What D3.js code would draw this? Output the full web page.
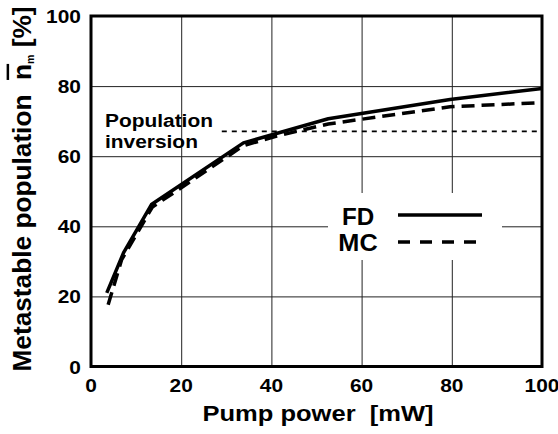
<!DOCTYPE html>
<html>
<head>
<meta charset="utf-8">
<script src="https://cdn.jsdelivr.net/npm/d3@7"></script>
<style>
  body { margin: 0; background: #fff; }
  svg { display: block; font-family: "Liberation Sans", Arial, sans-serif; font-weight: bold; }
  svg text { white-space: pre; }
</style>
</head>
<body>
<svg id="chart" width="558" height="434"></svg>
<script>
// data
const fdPower = [3.5, 7.2, 13.4, 33.8, 52.6, 79.6, 100];
const fdPop   = [21, 32.4, 46.2, 63.8, 70.7, 76.2, 79.3];
const mcPower = [3.8, 6.8, 13.6, 20, 33.8, 41, 52.6, 79.6, 100];
const mcPop   = [17.6, 30.5, 45.5, 51, 63, 65.7, 69.2, 74.1, 75.3];
const inversionLevel = 67.1;
const inversionStart = 29;
const xTicks = [0, 20, 40, 60, 80, 100];
const yTicks = [0, 20, 40, 60, 80, 100];

const svg = d3.select("#chart");
const x = d3.scaleLinear().domain([0, 100]).range([91, 542]);
const y = d3.scaleLinear().domain([0, 100]).range([366.5, 16]);

// text helper, the scan is a bit stretched sideways
function label(str, px, py, size, sx, anchor) {
    return svg.append("text")
        .attr("transform", `translate(${px},${py}) scale(${sx},1)`)
        .attr("text-anchor", anchor || "start")
        .style("font-size", size + "px")
        .text(str);
}

// grid
svg.append("g")
    .attr("transform", `translate(0,${y(0)})`)
    .call(d3.axisBottom(x).tickValues(xTicks).tickSize(-(y(0) - y(100))).tickFormat("").tickSizeOuter(0))
    .call(g => g.select(".domain").remove())
    .selectAll("line").attr("stroke", "#222").attr("stroke-width", 1);
svg.append("g")
    .attr("transform", `translate(${x(0)},0)`)
    .call(d3.axisLeft(y).tickValues(yTicks).tickSize(-(x(100) - x(0))).tickFormat("").tickSizeOuter(0))
    .call(g => g.select(".domain").remove())
    .selectAll("line").attr("stroke", "#222").attr("stroke-width", 1);

// population inversion level
svg.append("line")
    .attr("x1", x(inversionStart)).attr("x2", x(100))
    .attr("y1", y(inversionLevel)).attr("y2", y(inversionLevel))
    .attr("stroke", "#000").attr("stroke-width", 1.8)
    .attr("stroke-dasharray", "5,5");

label("Population", 105, 127, 19, 1.1);
label("inversion", 105, 148, 19, 1.1);

// curves
const line = d3.line().x(d => x(d[0])).y(d => y(d[1]));
svg.append("path")
    .datum(mcPower.map((p, i) => [p, mcPop[i]]))
    .attr("d", line)
    .attr("fill", "none").attr("stroke", "#000").attr("stroke-width", 3.5)
    .attr("stroke-dasharray", "13,7");
svg.append("path")
    .datum(fdPower.map((p, i) => [p, fdPop[i]]))
    .attr("d", line)
    .attr("fill", "none").attr("stroke", "#000").attr("stroke-width", 3.5)
    .attr("stroke-linejoin", "round");

// legend
svg.append("rect")
    .attr("x", 328).attr("y", 193).attr("width", 174).attr("height", 67)
    .attr("fill", "#fff");
label("FD", 358, 225, 23, 1.05, "middle");
label("MC", 358, 251, 23, 1.1, "middle");
svg.append("line")
    .attr("x1", 398).attr("x2", 482).attr("y1", 215).attr("y2", 215)
    .attr("stroke", "#000").attr("stroke-width", 3.5);
svg.append("line")
    .attr("x1", 398).attr("x2", 478).attr("y1", 242).attr("y2", 242)
    .attr("stroke", "#000").attr("stroke-width", 3.5)
    .attr("stroke-dasharray", "12,10");

// frame
svg.append("rect")
    .attr("x", x(0)).attr("y", y(100))
    .attr("width", x(100) - x(0)).attr("height", y(0) - y(100))
    .attr("fill", "none").attr("stroke", "#000").attr("stroke-width", 3);

// tick labels
xTicks.forEach(t => label(String(t), x(t), 392, 19, 1.1, "middle"));
yTicks.forEach(t => label(String(t), 81, y(t) + 7, 19, 1.1, "end"));

// axis titles
label("Pump power  [mW]", 318, 421, 22, 1.16, "middle");

const yt = svg.append("text")
    .attr("transform", "translate(31,189) rotate(-90) scale(1.05,1)")
    .attr("text-anchor", "middle")
    .style("font-size", "25px");
yt.append("tspan").text("Metastable population  ");
yt.append("tspan").text("n").style("text-decoration", "overline");
yt.append("tspan").text("m").style("font-size", "10px").attr("dy", 3);
yt.append("tspan").text(" [%]").attr("dy", -3);
</script>
</body>
</html>
